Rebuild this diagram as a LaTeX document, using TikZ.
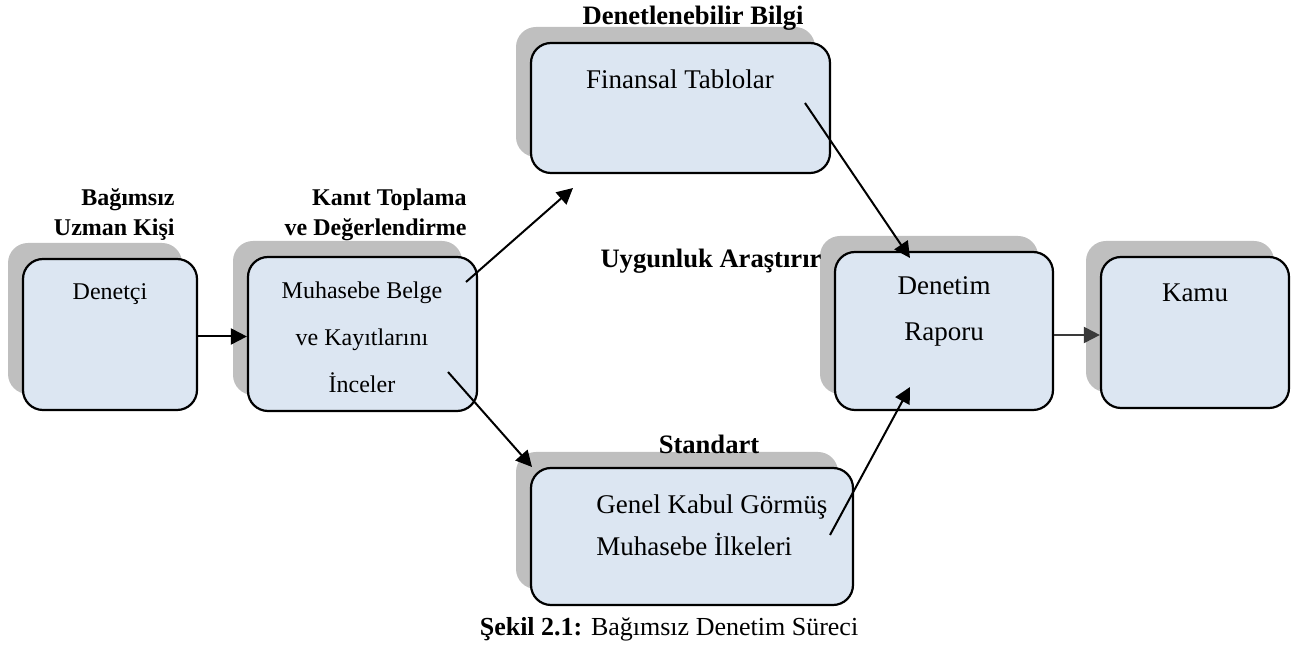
\documentclass[tikz,border=0pt]{standalone}
\usepackage{fontspec}
\setmainfont{Liberation Serif}
\usetikzlibrary{arrows.meta,shadows}
\definecolor{boxblue}{HTML}{DCE6F2}
\definecolor{shadowgray}{HTML}{BFBFBF}
\definecolor{darkarrow}{HTML}{3A3A3A}
\tikzset{
	box/.style={draw, line width=1.1pt, rounded corners=10pt, fill=boxblue,
		drop shadow={shadow xshift=-7.5pt, shadow yshift=8pt, fill=shadowgray, opacity=1}},
	txt/.style={font=\fontsize{12}{23.5}\selectfont, align=center, inner sep=0pt},
	bigtxt/.style={txt, font=\fontsize{13.5}{23}\selectfont},
	head/.style={font=\fontsize{12}{15}\selectfont\bfseries, align=right, inner sep=0pt},
	bighead/.style={head, font=\fontsize{13.3}{15}\selectfont\bfseries},
	pfeil/.style={line width=1pt, -{Triangle[length=8pt,width=8pt]}}
}
\begin{document}
\begin{tikzpicture}[x=0.5pt,y=-0.5pt]
			\useasboundingbox (0,0) rectangle (1298,646);
			
			% kutular
			\node[box, minimum width=87pt, minimum height=75.5pt] (denetci) at (110,334.5) {};
			\node[box, minimum width=114.5pt, minimum height=77pt] (muhasebe) at (362.5,334) {};
			\node[box, minimum width=149.5pt, minimum height=65pt] (finansal) at (680.5,108) {};
			\node[box, minimum width=109pt, minimum height=79pt] (rapor) at (944,331) {};
			\node[box, minimum width=94pt, minimum height=75.5pt] (kamu) at (1195,332.5) {};
			\node[box, minimum width=161pt, minimum height=68.5pt] (ilkeler) at (692,536.5) {};
			
			% kutu yazilari
			\node[txt] (denetcitxt) at (110,294) {Denetçi};
			\node[txt] (muhasebetxt) at (362,337) {Muhasebe Belge\\ve Kayıtlarını\\İnceler};
			\node[bigtxt] (finansaltxt) at (680,79) {Finansal Tablolar};
			\node[bigtxt] (raportxt) at (944,311) {Denetim\\Raporu};
			\node[bigtxt] (kamutxt) at (1195,293) {Kamu};
			\node[bigtxt, font=\fontsize{13.5}{21}\selectfont, align=left, anchor=west] (ilkelertxt) at (596,525) {Genel Kabul Görmüş\\Muhasebe İlkeleri};
			
			% basliklar
			\node[head, anchor=east] (uzman) at (175,215) {Bağımsız\\Uzman Kişi};
			\node[head, anchor=east] (kanit) at (467,215) {Kanıt Toplama\\ve Değerlendirme};
			\node[bighead] (bilgi) at (693,18) {Denetlenebilir Bilgi};
			\node[bighead] (uygunluk) at (711,261) {Uygunluk Araştırır};
			\node[bighead] (standart) at (709,444) {Standart};
			\node[inner sep=0pt, font=\fontsize{13}{14}\selectfont] (sekil) at (669,629) {\textbf{Şekil 2.1:} Bağımsız Denetim Süreci};
			
			% oklar
			\coordinate (m1) at (466,282);
			\coordinate (m2) at (448,372);
			\coordinate (f1) at (805,103);
			\coordinate (g1) at (830,535);
			\coordinate (bilgiucu) at (573,188);
			\coordinate (ilkeucu) at (532,467);
			\coordinate (raporust) at (910,258);
			\coordinate (raporalt) at (910,387);
			\draw[pfeil] ([yshift=-1pt]denetci.east) -- ([yshift=-1pt]denetci.east -| muhasebe.west);
			\draw[pfeil] (m1) -- (bilgiucu);
			\draw[pfeil] (m2) -- (ilkeucu);
			\draw[pfeil] (f1) -- (raporust);
			\draw[pfeil] (g1) -- (raporalt);
			\draw[pfeil, darkarrow] ([yshift=-2pt]rapor.east) -- ([yshift=-2pt]rapor.east -| kamu.west);
		\end{tikzpicture}
\end{document}
